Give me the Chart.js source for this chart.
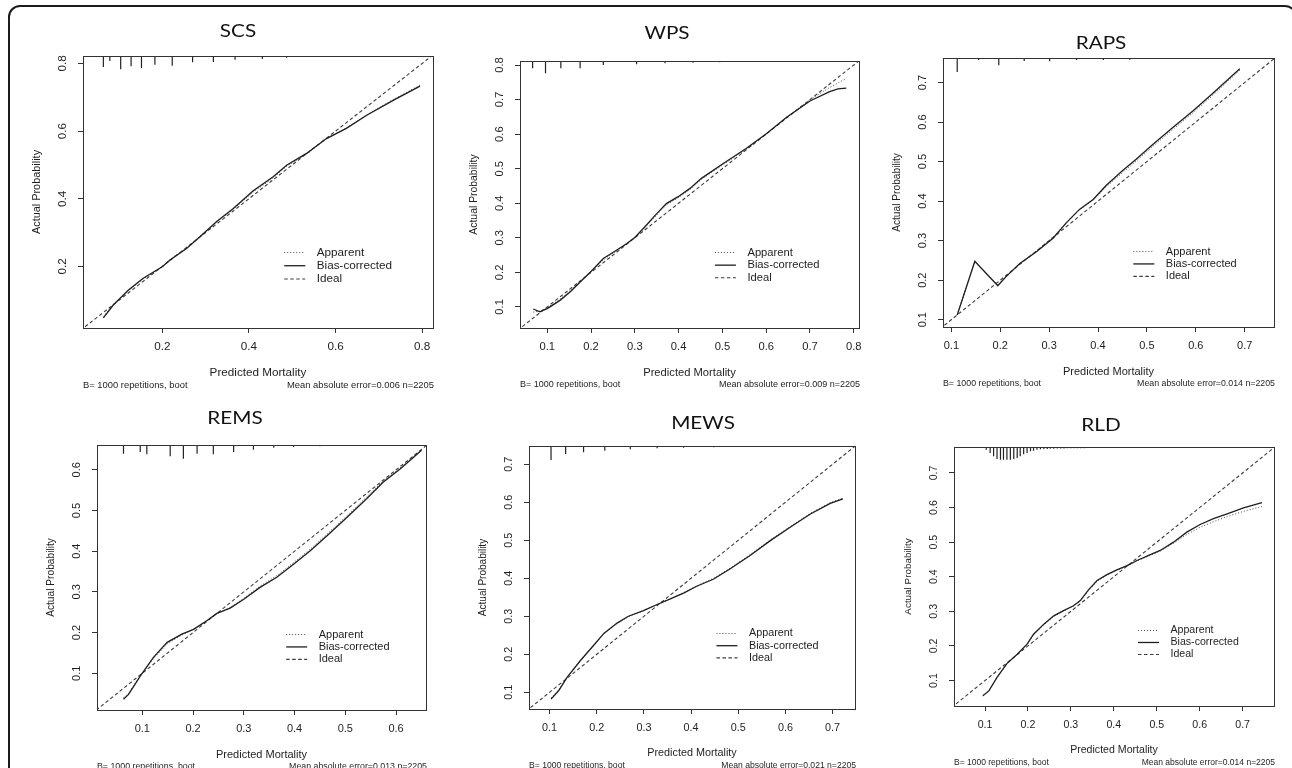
<!DOCTYPE html>
<html>
<head>
<meta charset="utf-8">
<script src="https://cdn.jsdelivr.net/npm/chart.js@4.4.1/dist/chart.umd.min.js"></script>
<style>
  html, body { margin: 0; padding: 0; background: #fff; overflow: hidden; }
  body { width: 1292px; height: 768px; position: relative; }
  #frame { position: absolute; left: 8px; top: 5px; width: 1289px; height: 900px;
           border: 2px solid #1c1c1c; border-radius: 12px; box-sizing: border-box; }
  canvas { position: absolute; }
</style>
</head>
<body>
<div id="frame"></div>
<script>
// ---- shared text ----
const legendLabels = ['Apparent', 'Bias-corrected', 'Ideal'];
const xAxisTitle = 'Predicted Mortality';
const yAxisTitle = 'Actual Probability';
const bootText = 'B= 1000 repetitions, boot';
const maeValues = [0.006, 0.009, 0.014, 0.013, 0.021, 0.014];
const sampleSize = 2205;
const idealX = [0, 1];

// ---- SCS ----
const scsPred = [0.064, 0.087, 0.122, 0.156, 0.200, 0.218, 0.256, 0.287, 0.325, 0.364, 0.410, 0.456, 0.487, 0.533, 0.579, 0.625, 0.672, 0.733, 0.795];
const scsBias = [0.048, 0.086, 0.130, 0.165, 0.199, 0.219, 0.253, 0.288, 0.332, 0.371, 0.424, 0.465, 0.499, 0.534, 0.578, 0.608, 0.647, 0.691, 0.733];
const scsApparent = [0.052, 0.088, 0.128, 0.163, 0.200, 0.221, 0.255, 0.289, 0.331, 0.369, 0.420, 0.461, 0.496, 0.532, 0.577, 0.609, 0.648, 0.693, 0.736];
const scsRugX = [0.064, 0.079, 0.104, 0.128, 0.152, 0.183, 0.223, 0.270, 0.318, 0.368, 0.431, 0.487, 0.541, 0.595, 0.649];
const scsRugLen = [0.0325, 0.0148, 0.0393, 0.0304, 0.0355, 0.0257, 0.0287, 0.0186, 0.0177, 0.0109, 0.0089, 0.005, 0.003, 0.003, 0.003];
const scsTicks = [0.2, 0.4, 0.6, 0.8];

// ---- WPS ----
const wpsPred = [0.068, 0.083, 0.100, 0.129, 0.152, 0.175, 0.201, 0.228, 0.258, 0.281, 0.300, 0.323, 0.350, 0.372, 0.399, 0.426, 0.452, 0.502, 0.555, 0.601, 0.646, 0.700, 0.745, 0.764, 0.783];
const wpsBias = [0.094, 0.086, 0.095, 0.119, 0.143, 0.172, 0.204, 0.240, 0.264, 0.283, 0.301, 0.332, 0.370, 0.399, 0.419, 0.443, 0.472, 0.515, 0.559, 0.602, 0.648, 0.696, 0.723, 0.731, 0.733];
const wpsApparent = [0.085, 0.088, 0.098, 0.122, 0.147, 0.174, 0.204, 0.236, 0.262, 0.282, 0.301, 0.330, 0.366, 0.395, 0.416, 0.440, 0.469, 0.512, 0.557, 0.601, 0.648, 0.700, 0.735, 0.748, 0.761];
const wpsRugX = [0.0665, 0.096, 0.131, 0.175, 0.228, 0.304, 0.369, 0.433, 0.494, 0.555, 0.638, 0.707, 0.783];
const wpsRugLen = [0.0211, 0.0356, 0.0211, 0.0211, 0.0116, 0.0096, 0.0067, 0.0049, 0.0038, 0.0029, 0.0029, 0.0029, 0.0029];
const wpsTicks = [0.1, 0.2, 0.3, 0.4, 0.5, 0.6, 0.7, 0.8];

// ---- RAPS ----
const rapsPred = [0.112, 0.148, 0.195, 0.212, 0.240, 0.274, 0.308, 0.335, 0.362, 0.390, 0.417, 0.451, 0.478, 0.512, 0.553, 0.594, 0.635, 0.690];
const rapsBias = [0.112, 0.248, 0.186, 0.209, 0.242, 0.272, 0.306, 0.345, 0.379, 0.404, 0.440, 0.478, 0.506, 0.543, 0.586, 0.628, 0.673, 0.735];
const rapsApparent = [0.112, 0.246, 0.188, 0.210, 0.242, 0.274, 0.309, 0.345, 0.378, 0.402, 0.436, 0.473, 0.501, 0.538, 0.581, 0.623, 0.668, 0.731];
const rapsRugX = [0.112, 0.156, 0.197, 0.249, 0.301, 0.356, 0.411, 0.465, 0.513, 0.560];
const rapsRugLen = [0.0354, 0.0051, 0.0185, 0.0076, 0.0083, 0.0051, 0.0051, 0.0043, 0.0025, 0.0025];
const rapsTicks = [0.1, 0.2, 0.3, 0.4, 0.5, 0.6, 0.7];

// ---- REMS ----
const remsPred = [0.063, 0.073, 0.096, 0.122, 0.149, 0.178, 0.201, 0.227, 0.247, 0.273, 0.300, 0.332, 0.365, 0.398, 0.431, 0.464, 0.503, 0.542, 0.575, 0.608, 0.634, 0.650];
const remsBias = [0.036, 0.048, 0.093, 0.139, 0.176, 0.196, 0.208, 0.229, 0.247, 0.260, 0.282, 0.311, 0.336, 0.368, 0.401, 0.438, 0.483, 0.529, 0.570, 0.602, 0.630, 0.648];
const remsApparent = [0.040, 0.051, 0.094, 0.136, 0.172, 0.194, 0.208, 0.229, 0.247, 0.261, 0.284, 0.314, 0.340, 0.372, 0.405, 0.442, 0.487, 0.533, 0.573, 0.605, 0.632, 0.649];
const remsRugX = [0.063, 0.096, 0.109, 0.155, 0.181, 0.208, 0.240, 0.280, 0.319, 0.359, 0.398, 0.450, 0.503, 0.555];
const remsRugLen = [0.0214, 0.0172, 0.0229, 0.0278, 0.0337, 0.0214, 0.0229, 0.0172, 0.0116, 0.0067, 0.0049, 0.0032, 0.0025, 0.0025];
const remsTicks = [0.1, 0.2, 0.3, 0.4, 0.5, 0.6];

// ---- MEWS ----
const mewsPred = [0.103, 0.119, 0.137, 0.165, 0.193, 0.215, 0.243, 0.267, 0.299, 0.328, 0.356, 0.384, 0.412, 0.448, 0.483, 0.525, 0.568, 0.610, 0.653, 0.695, 0.722];
const mewsBias = [0.082, 0.104, 0.139, 0.183, 0.223, 0.255, 0.282, 0.300, 0.315, 0.331, 0.346, 0.361, 0.379, 0.398, 0.425, 0.460, 0.499, 0.534, 0.569, 0.597, 0.609];
const mewsApparent = [0.085, 0.106, 0.140, 0.183, 0.222, 0.254, 0.281, 0.299, 0.315, 0.331, 0.346, 0.362, 0.380, 0.400, 0.427, 0.462, 0.501, 0.536, 0.571, 0.599, 0.611];
const mewsRugX = [0.103, 0.134, 0.172, 0.217, 0.271, 0.328, 0.384, 0.448, 0.504, 0.560];
const mewsRugLen = [0.0368, 0.0211, 0.0166, 0.0124, 0.0087, 0.0061, 0.0045, 0.0034, 0.0026, 0.0026];
const mewsTicks = [0.1, 0.2, 0.3, 0.4, 0.5, 0.6, 0.7];

// ---- RLD ----
const rldPred = [0.095, 0.109, 0.128, 0.151, 0.175, 0.198, 0.213, 0.237, 0.260, 0.283, 0.306, 0.322, 0.341, 0.361, 0.384, 0.407, 0.431, 0.454, 0.485, 0.508, 0.539, 0.570, 0.601, 0.632, 0.664, 0.702, 0.745];
const rldBias = [0.056, 0.070, 0.109, 0.149, 0.176, 0.205, 0.234, 0.263, 0.287, 0.302, 0.316, 0.331, 0.362, 0.389, 0.406, 0.420, 0.432, 0.447, 0.464, 0.476, 0.500, 0.529, 0.551, 0.568, 0.582, 0.599, 0.614];
const rldApparent = [0.056, 0.071, 0.109, 0.148, 0.176, 0.204, 0.232, 0.261, 0.285, 0.301, 0.315, 0.330, 0.360, 0.387, 0.405, 0.419, 0.431, 0.446, 0.462, 0.474, 0.497, 0.522, 0.543, 0.559, 0.574, 0.589, 0.603];
const rldRugX = [0.103, 0.112, 0.120, 0.128, 0.136, 0.143, 0.151, 0.159, 0.167, 0.175, 0.182, 0.190, 0.198, 0.206, 0.213, 0.221,
                 0.229, 0.237, 0.245, 0.252, 0.260, 0.268, 0.276, 0.284, 0.292, 0.300, 0.307, 0.315, 0.323, 0.331, 0.339, 0.346,
                 0.354, 0.362, 0.370, 0.378, 0.386, 0.394, 0.401, 0.409, 0.417, 0.425, 0.433, 0.440, 0.448, 0.456, 0.464, 0.472,
                 0.539, 0.609, 0.695];
const rldRugLen = [0.0078, 0.0174, 0.0270, 0.0348, 0.0368, 0.0368, 0.0368, 0.0368, 0.0348, 0.0319, 0.0270, 0.0212, 0.0174, 0.0125, 0.0107, 0.0078,
                   0.0067, 0.0058, 0.0058, 0.0049, 0.0049, 0.0043, 0.0043, 0.0043, 0.0038, 0.0038, 0.0038, 0.0035, 0.0035, 0.0035, 0.0032, 0.0032,
                   0.0032, 0.0032, 0.0029, 0.0029, 0.0029, 0.0029, 0.0029, 0.0029, 0.0029, 0.0029, 0.0029, 0.0029, 0.0029, 0.0029, 0.0029, 0.0029,
                   0.0029, 0.0029, 0.0029];
const rldTicks = [0.1, 0.2, 0.3, 0.4, 0.5, 0.6, 0.7];

// ---- panel layout (page pixels) ----
const panels = [
  { title: 'SCS', pred: scsPred, bias: scsBias, apparent: scsApparent, rugX: scsRugX, rugLen: scsRugLen, ticks: scsTicks, mae: maeValues[0],
    canvas: [12, 8, 430, 386], box: [83, 56, 433, 328], xRange: [0.017, 0.825], yRange: [0.018, 0.822], titlePos: [238, 31], fs: 11.7 },
  { title: 'WPS', pred: wpsPred, bias: wpsBias, apparent: wpsApparent, rugX: wpsRugX, rugLen: wpsRugLen, ticks: wpsTicks, mae: maeValues[1],
    canvas: [442, 8, 428, 386], box: [520, 61, 859, 328], xRange: [0.0377, 0.812], yRange: [0.039, 0.8116], titlePos: [667, 33], fs: 11.2 },
  { title: 'RAPS', pred: rapsPred, bias: rapsBias, apparent: rapsApparent, rugX: rapsRugX, rugLen: rapsRugLen, ticks: rapsTicks, mae: maeValues[2],
    canvas: [870, 8, 422, 386], box: [943, 58, 1274, 327], xRange: [0.0829, 0.76], yRange: [0.0815, 0.762], titlePos: [1101, 43], fs: 11 },
  { title: 'REMS', pred: remsPred, bias: remsBias, apparent: remsApparent, rugX: remsRugX, rugLen: remsRugLen, ticks: remsTicks, mae: maeValues[3],
    canvas: [12, 396, 430, 372], box: [97, 445, 426, 710], xRange: [0.0108, 0.659], yRange: [0.0097, 0.661], titlePos: [235, 418], fs: 11 },
  { title: 'MEWS', pred: mewsPred, bias: mewsBias, apparent: mewsApparent, rugX: mewsRugX, rugLen: mewsRugLen, ticks: mewsTicks, mae: maeValues[4],
    canvas: [442, 396, 428, 372], box: [529, 446, 855, 709], xRange: [0.0563, 0.7475], yRange: [0.056, 0.748], titlePos: [703, 423], fs: 10.8 },
  { title: 'RLD', pred: rldPred, bias: rldBias, apparent: rldApparent, rugX: rldRugX, rugLen: rldRugLen, ticks: rldTicks, mae: maeValues[5],
    canvas: [870, 396, 422, 372], box: [954, 447, 1274, 706], xRange: [0.0278, 0.773], yRange: [0.0264, 0.775], titlePos: [1101, 425], fs: 10.6 }
];

const FAMILY = '"Liberation Sans", Arial, sans-serif';
Chart.defaults.font.family = FAMILY;
const fontStr = (s) => s.toFixed(1) + 'px ' + FAMILY;
const AXIS_W = 32;   // room kept for the y tick labels
const AXIS_H = 32;   // room kept for the x tick labels

// draws the R-style frame, titles, footers and legend
function rDecor(p) {
  return {
    id: 'rDecor',
    afterDraw(chart) {
      const ctx = chart.ctx;
      const a = chart.chartArea;
      const [cx, cy] = p.canvas;
      const fs = p.fs;
      ctx.save();

      ctx.strokeStyle = '#333';
      ctx.lineWidth = 1;
      ctx.strokeRect(a.left + 0.5, a.top + 0.5, a.right - a.left, a.bottom - a.top);

      // panel title
      ctx.fillStyle = '#111';
      ctx.textAlign = 'center';
      ctx.textBaseline = 'middle';
      ctx.save();
      ctx.translate(p.titlePos[0] - cx, p.titlePos[1] - cy);
      ctx.scale(1.15, 1);
      ctx.font = '18px Lato, sans-serif';
      ctx.fillText(p.title, 0, 0);
      ctx.restore();

      // axis titles
      ctx.fillStyle = '#1e1e1e';
      ctx.font = fontStr(fs);
      ctx.fillText(xAxisTitle, (a.left + a.right) / 2, a.bottom + 44.5);
      ctx.save();
      ctx.translate(a.left - 46, (a.top + a.bottom) / 2);
      ctx.rotate(-Math.PI / 2);
      ctx.font = fontStr(fs * 0.93);
      ctx.fillText(yAxisTitle, 0, 0);
      ctx.restore();

      // footers
      ctx.font = fontStr(fs * 0.8);
      ctx.textAlign = 'left';
      ctx.fillText(bootText, a.left, a.bottom + 57);
      ctx.textAlign = 'right';
      ctx.fillText('Mean absolute error=' + p.mae.toFixed(3) + ' n=' + sampleSize, a.right + 1, a.bottom + 57);

      // legend
      const order = [1, 0, 2];
      const lx = a.left + 0.575 * (a.right - a.left);
      const y0 = a.bottom - 75.5;
      ctx.font = fontStr(fs);
      ctx.textAlign = 'left';
      legendLabels.forEach((lab, i) => {
        const ds = chart.data.datasets[order[i]];
        const y = y0 + i * 1.13 * fs;
        ctx.strokeStyle = ds.borderColor;
        ctx.lineWidth = ds.borderWidth;
        ctx.setLineDash(ds.borderDash || []);
        ctx.beginPath();
        ctx.moveTo(lx, y);
        ctx.lineTo(lx + 21, y);
        ctx.stroke();
        ctx.setLineDash([]);
        ctx.fillText(lab, lx + 32.5, y);
      });
      ctx.restore();
    }
  };
}

panels.forEach(p => {
  const [cx, cy, cw, ch] = p.canvas;
  const [bl, bt, br, bb] = p.box;
  const cv = document.createElement('canvas');
  cv.width = cw;
  cv.height = ch;
  cv.style.left = cx + 'px';
  cv.style.top = cy + 'px';
  document.body.appendChild(cv);

  const top = p.yRange[1];
  const rug = [];
  p.rugX.forEach((x, i) => {
    rug.push({ x: x, y: top }, { x: x, y: top - p.rugLen[i] }, { x: x, y: null });
  });

  const fs = p.fs;
  const tickFont = { size: fs, family: FAMILY };

  new Chart(cv, {
    type: 'scatter',
    data: {
      datasets: [
        { label: 'Bias-corrected', data: p.pred.map((x, i) => ({ x: x, y: p.bias[i] })),
          showLine: true, borderColor: '#1e1e1e', borderWidth: 1.3, pointRadius: 0 },
        { label: 'Apparent', data: p.pred.map((x, i) => ({ x: x, y: p.apparent[i] })),
          showLine: true, borderColor: '#4a4a4a', borderWidth: 1, borderDash: [1, 2], pointRadius: 0 },
        { label: 'Ideal', data: idealX.map(v => ({ x: v, y: v })),
          showLine: true, borderColor: '#3c3c3c', borderWidth: 1.1, borderDash: [3.5, 2.5], pointRadius: 0 },
        { label: 'rug', data: rug, showLine: true, spanGaps: false,
          borderColor: '#222', borderWidth: 1.2, pointRadius: 0 }
      ]
    },
    options: {
      responsive: false,
      animation: false,
      devicePixelRatio: 1,
      layout: { padding: { left: bl - cx - AXIS_W, top: bt - cy, right: cx + cw - br, bottom: cy + ch - bb - AXIS_H } },
      plugins: { legend: { display: false }, tooltip: { enabled: false } },
      elements: { line: { tension: 0 } },
      scales: {
        x: {
          type: 'linear', position: 'bottom', min: p.xRange[0], max: p.xRange[1],
          afterFit: s => { s.height = AXIS_H; },
          afterBuildTicks: s => { s.ticks = p.ticks.map(v => ({ value: v })); },
          grid: { drawOnChartArea: false, tickLength: 5, color: '#333' },
          border: { color: '#333' },
          ticks: { font: tickFont, color: '#1e1e1e', padding: 19 - 5 - 0.6 * fs, maxRotation: 0, autoSkip: false,
                   callback: v => v.toFixed(1) }
        },
        y: {
          type: 'linear', position: 'left', min: p.yRange[0], max: p.yRange[1],
          afterFit: s => { s.width = AXIS_W; },
          afterBuildTicks: s => { s.ticks = p.ticks.map(v => ({ value: v })); },
          grid: { drawOnChartArea: false, tickLength: 5, color: '#333' },
          border: { color: '#333' },
          ticks: { font: tickFont, color: '#1e1e1e', padding: 15 - 0.7 * fs, minRotation: 90, maxRotation: 90,
                   crossAlign: 'center', autoSkip: false, callback: v => v.toFixed(1) }
        }
      }
    },
    plugins: [rDecor(p)]
  });
});
</script>
</body>
</html>
